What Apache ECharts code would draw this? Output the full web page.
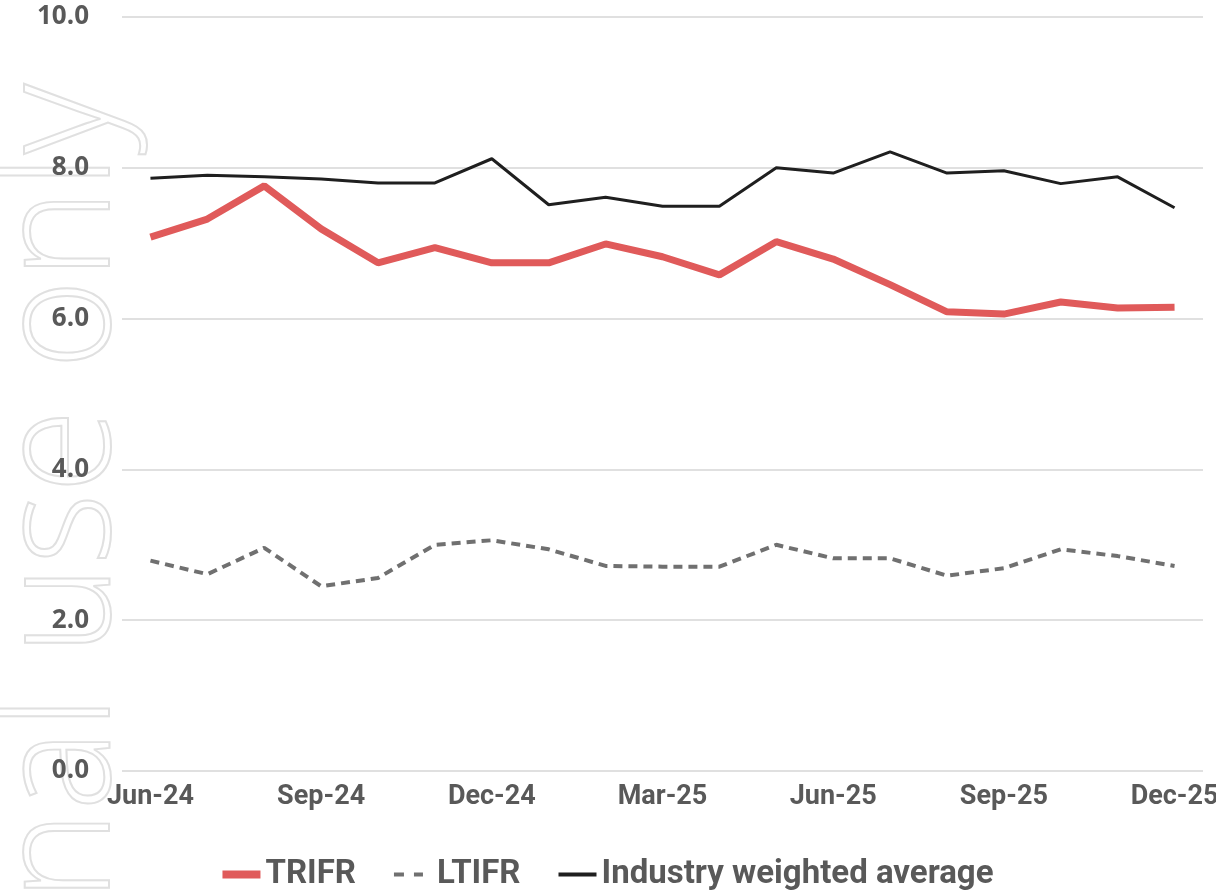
<!DOCTYPE html>
<html>
<head>
<meta charset="utf-8">
<script src="https://cdn.jsdelivr.net/npm/echarts@6/dist/echarts.min.js"></script>
<style>
  html, body { margin: 0; padding: 0; background: #fff; }
  #chart-panel { width: 1216px; height: 894px; }
</style>
</head>
<body>
<div id="chart-panel"></div>
<script>
// months Jun-24 .. Dec-25
const months = ['Jun-24','Jul-24','Aug-24','Sep-24','Oct-24','Nov-24','Dec-24','Jan-25','Feb-25','Mar-25',
  'Apr-25','May-25','Jun-25','Jul-25','Aug-25','Sep-25','Oct-25','Nov-25','Dec-25'];
const shownMonths = ['Jun-24','Sep-24','Dec-24','Mar-25','Jun-25','Sep-25','Dec-25'];

const trifr = [7.08,7.32,7.76,7.19,6.74,6.94,6.74,6.74,6.99,6.82,6.58,7.02,6.79,6.45,6.09,6.06,6.22,6.14,6.15];
const ltifr = [2.79,2.61,2.96,2.45,2.56,3.00,3.06,2.94,2.72,2.71,2.71,3.00,2.82,2.82,2.59,2.69,2.94,2.85,2.72];
const industry = [7.86,7.90,7.88,7.85,7.80,7.80,8.12,7.51,7.61,7.49,7.49,8.00,7.93,8.21,7.93,7.96,7.79,7.88,7.47];

const seriesNames = ['TRIFR','LTIFR','Industry weighted average'];

var myChart = echarts.init(document.getElementById('chart-panel'));
const grey = '#595959';

myChart.setOption({
  animation: false,
  graphic: [
    {
      // faded watermark down the left edge
      type: 'text',
      silent: true,
      z: -1,
      x: 143,
      y: 84,
      rotation: Math.PI / 2,
      scaleX: 0.97,
      style: {
        text: 'Internal use only',
        font: '300 158px "Open Sans"',
        fill: 'rgba(0,0,0,0)',
        stroke: '#e0e0e0',
        lineWidth: 2,
        textAlign: 'right',
        textVerticalAlign: 'bottom'
      }
    }
  ],
  grid: { left: 122, right: 13, top: 17, bottom: 123, outerBoundsMode: 'none' },
  legend: {
    top: 853,
    left: 'center',
    itemGap: 38,
    itemWidth: 38,
    itemHeight: 8,
    itemStyle: { borderWidth: 0 },
    textStyle: { color: grey, fontWeight: 'bold', fontFamily: 'Roboto', fontSize: 33 },
    data: [
      { name: seriesNames[0], icon: 'rect' },
      { name: seriesNames[1], icon: 'path://M0,0M38,8M0,2h10v4h-10zM20,2h9v4h-9z' },
      { name: seriesNames[2], icon: 'path://M0,0M38,8M0,2h38v4h-38z' }
    ]
  },
  xAxis: {
    type: 'category',
    data: months,
    axisLine: { show: false },
    axisTick: { show: false },
    axisLabel: {
      margin: 13,
      color: grey,
      fontWeight: 'bold',
      fontFamily: 'Roboto',
      fontSize: 27,
      interval: function (i, v) { return shownMonths.indexOf(v) >= 0; }
    }
  },
  yAxis: {
    type: 'value',
    min: 0,
    max: 10,
    interval: 2,
    axisLabel: {
      margin: 33,
      color: grey,
      fontWeight: 'bold',
      fontFamily: 'Open Sans',
      fontSize: 26,
      formatter: function (v) { return v.toFixed(1); }
    },
    splitLine: { lineStyle: { color: '#e0e0e0', width: 2 } }
  },
  series: [
    {
      name: seriesNames[0],
      type: 'line',
      data: trifr,
      symbol: 'none',
      color: '#e05a5a',
      lineStyle: { width: 7, color: '#e05a5a' }
    },
    {
      name: seriesNames[1],
      type: 'line',
      data: ltifr,
      symbol: 'none',
      color: '#707070',
      lineStyle: { width: 4, color: '#707070', type: [9, 6] }
    },
    {
      name: seriesNames[2],
      type: 'line',
      data: industry,
      symbol: 'none',
      color: '#1f1f1f',
      lineStyle: { width: 3, color: '#1f1f1f' }
    }
  ]
});
</script>
</body>
</html>
